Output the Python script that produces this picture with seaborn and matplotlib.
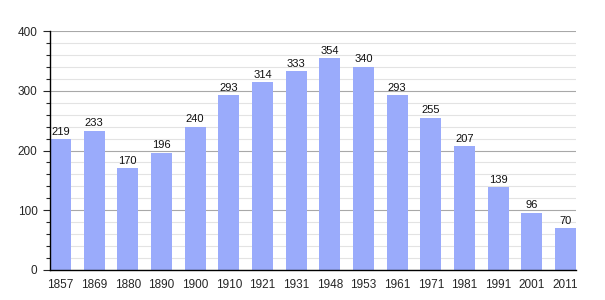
import matplotlib
matplotlib.use("Agg")
import matplotlib.pyplot as plt
import seaborn as sns
import pandas as pd
from matplotlib.ticker import MultipleLocator

years = ["1857", "1869", "1880", "1890", "1900", "1910", "1921", "1931",
         "1948", "1953", "1961", "1971", "1981", "1991", "2001", "2011"]
population = [219, 233, 170, 196, 240, 293, 314, 333, 354, 340, 293, 255, 207, 139, 96, 70]

df = pd.DataFrame({"year": years, "pop": population})

sns.set_style("white")
plt.rcParams['font.family'] = ['Liberation Sans', 'DejaVu Sans']

fig = plt.figure(figsize=(6.05, 3.0), dpi=100)
ax = fig.add_axes([50/605, 1-270/300, (576-50)/605, (270-31)/300])

ax.set_axisbelow(True)
ax.yaxis.set_major_locator(MultipleLocator(100))
ax.yaxis.set_minor_locator(MultipleLocator(20))
ax.grid(axis="y", which="minor", color="#e3e3e3", linewidth=0.8)
ax.grid(axis="y", which="major", color="#a8a8a8", linewidth=0.8)

sns.barplot(data=df, x="year", y="pop", color="#9aabfb", saturation=1,
            width=0.62, ax=ax, edgecolor="none")

for i, v in enumerate(population):
    ax.text(i, v + 4, str(v), ha="center", va="bottom", fontsize=8, color="#111111")

ax.set_xlim(-0.31, 15.31)
ax.set_ylim(0, 400)
ax.set_xlabel("")
ax.set_ylabel("")
for s in ["top", "right"]:
    ax.spines[s].set_visible(False)
ax.spines["left"].set_color("black")
ax.spines["bottom"].set_color("black")
ax.spines["left"].set_linewidth(1)
ax.spines["bottom"].set_linewidth(1)
ax.tick_params(axis="y", which="major", left=True, length=5, width=0.8, labelsize=8.5, pad=4)
ax.tick_params(axis="y", which="minor", left=True, length=3, width=0.8)
ax.tick_params(axis="x", bottom=False, labelsize=8.5, pad=3)

fig.savefig("out.png", dpi=100)
